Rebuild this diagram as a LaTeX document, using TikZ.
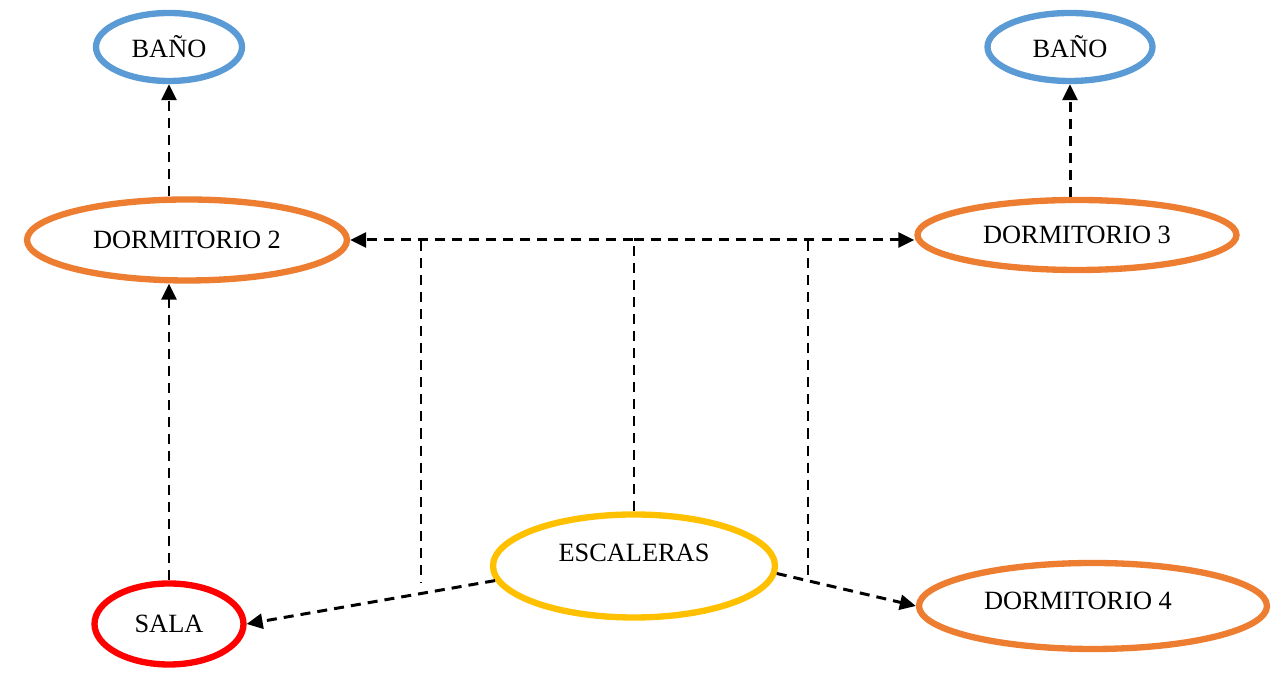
\documentclass[tikz,border=0pt]{standalone}
\usepackage{fontspec}
\setmainfont{Liberation Serif}
\usetikzlibrary{shapes.geometric, arrows.meta}
\definecolor{bluerim}{RGB}{91,155,213}
\definecolor{orangerim}{RGB}{237,125,49}
\definecolor{yellowrim}{RGB}{255,192,0}
\begin{document}
\begin{tikzpicture}[font=\fontsize{15}{18}\selectfont,
    main/.style = {draw, ellipse, line width=3.6pt, inner sep=0pt},
    link/.style = {line width=1.7pt, dash pattern=on 5.7pt off 4pt, -{Triangle[length=0.32cm, width=0.3cm]}}]
    \useasboundingbox (0,0) rectangle (25.62,13.52);
    \node[main, draw=bluerim, minimum width=2.92cm, minimum height=1.36cm] (1) at (3.38,12.58) {BAÑO};
    \node[main, draw=bluerim, minimum width=3.30cm, minimum height=1.36cm] (2) at (21.40,12.58) {BAÑO};
    \node[main, draw=orangerim, minimum width=6.40cm, minimum height=1.62cm] (3) at (3.74,8.72) {DORMITORIO 2};
    \node[main, draw=orangerim, minimum width=6.38cm, minimum height=1.40cm] (4) at (21.54,8.82) {DORMITORIO 3};
    \node[main, draw=red, minimum width=2.98cm, minimum height=1.62cm] (5) at (3.38,1.04) {SALA};
    \node[main, draw=yellowrim, minimum width=5.64cm, minimum height=2.06cm,
          label={[yshift=0.26cm]center:ESCALERAS}] (6) at (12.68,2.20) {};
    \node[main, draw=orangerim, minimum width=6.96cm, minimum height=1.72cm,
          label={[xshift=-0.3cm, yshift=0.1cm]center:DORMITORIO 4}] (7) at (21.86,1.40) {};
    \coordinate (hub) at (6.north |- 3.east);
    \coordinate (a) at (8.42,8.70);
    \coordinate (b) at (16.16,8.70);

    \draw[link] (3.north -| 1) -- (1.south);
    \draw[link] (5.north) -- (5.north |- 3.south);
    \draw[link] (4.north -| 2) -- (2.south);
    \draw[link] (6.north) |- (3.east);
    \draw[link] (hub) -- (hub -| 4.west);
    \draw[link] (6.186) -- (5.east);
    \draw[link] (6.-3) -- (7.west);
    % loose ends
    \draw[link, -] (a) -- ++(0,-6.82);
    \draw[link, -] (b) -- ++(0,-6.78);
\end{tikzpicture}
\end{document}
